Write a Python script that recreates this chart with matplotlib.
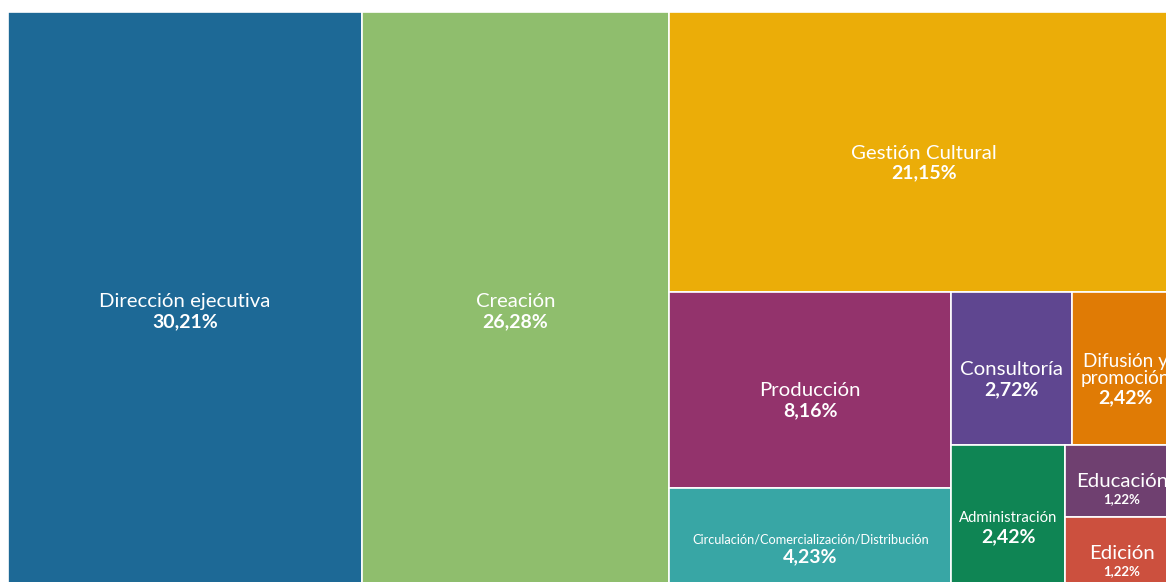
import matplotlib
matplotlib.use("Agg")
import matplotlib.pyplot as plt
from matplotlib.patches import Rectangle

# datos del treemap
categorias = ["Dirección ejecutiva", "Creación", "Gestión Cultural", "Producción",
              "Circulación/Comercialización/Distribución", "Consultoría",
              "Difusión y\npromoción", "Administración", "Educación", "Edición"]
porcentajes = [30.21, 26.28, 21.15, 8.16, 4.23, 2.72, 2.42, 2.42, 1.22, 1.22]
etiquetas = ["30,21%", "26,28%", "21,15%", "8,16%", "4,23%",
             "2,72%", "2,42%", "2,42%", "1,22%", "1,22%"]
colores = ["#1d6996", "#8fbe6d", "#ebad08", "#93336c", "#38a6a5",
           "#5f4690", "#e07b05", "#0f8554", "#6f4070", "#cc503e"]

FUENTE = ["Lato", "DejaVu Sans"]


def binary_layout(values, x0, y0, x1, y1):
    """Particion binaria (como d3.treemapBinary)."""
    sums = [0.0]
    for v in values:
        sums.append(sums[-1] + v)
    rects = [None] * len(values)

    def partition(i, j, value, x0, y0, x1, y1):
        if i >= j - 1:
            rects[i] = (x0, y0, x1, y1)
            return
        offset = sums[i]
        target = value / 2 + offset
        k, hi = i + 1, j - 1
        while k < hi:
            mid = (k + hi) // 2
            if sums[mid] < target:
                k = mid + 1
            else:
                hi = mid
        if (target - sums[k - 1]) < (sums[k] - target) and i + 1 < k:
            k -= 1
        left = sums[k] - offset
        right = value - left
        if (x1 - x0) > (y1 - y0):
            xk = (x0 * right + x1 * left) / value
            partition(i, k, left, x0, y0, xk, y1)
            partition(k, j, right, xk, y0, x1, y1)
        else:
            yk = (y0 * right + y1 * left) / value
            partition(i, k, left, x0, y0, x1, yk)
            partition(k, j, right, x0, yk, x1, y1)

    partition(0, len(values), sums[-1], x0, y0, x1, y1)
    return rects


# el grafico original esta recortado a la derecha y abajo
W, H = 1171.0, 577.0
fig = plt.figure(figsize=(11.66, 5.82), dpi=100)
ax = fig.add_axes([8 / 1166, 1 - (12 + H) / 582, W / 1166, H / 582])
ax.set_xlim(0, W)
ax.set_ylim(H, 0)
ax.axis("off")

renderer = fig.canvas.get_renderer()

for nombre, valor, etiqueta, color, (x0, y0, x1, y1) in zip(
        categorias, porcentajes, etiquetas, colores,
        binary_layout(porcentajes, 0, 0, W, H)):
    ax.add_patch(Rectangle((x0, y0), x1 - x0, y1 - y0, facecolor=color,
                           edgecolor="white", linewidth=1.2))
    cx, cy = (x0 + x1) / 2, (y0 + y1) / 2 + 1
    ancho = x1 - x0

    # nombre: reducir hasta que quepa
    size = 14.7
    t = ax.text(cx, cy, nombre, ha="center", va="center", color="white",
                fontsize=size, family=FUENTE, linespacing=1.0)
    while t.get_window_extent(renderer).width > ancho * 0.87 and size > 7:
        size -= 0.5
        t.set_fontsize(size)
    alto_nombre = t.get_window_extent(renderer).height

    size_pct = 14 if (y1 - y0) > 80 else 9.5
    ax.text(cx, cy + alto_nombre / 2 + 3, etiqueta, ha="center", va="top",
            color="white", fontsize=size_pct, fontweight="bold", family=FUENTE)

fig.savefig("out.png", dpi=100)
